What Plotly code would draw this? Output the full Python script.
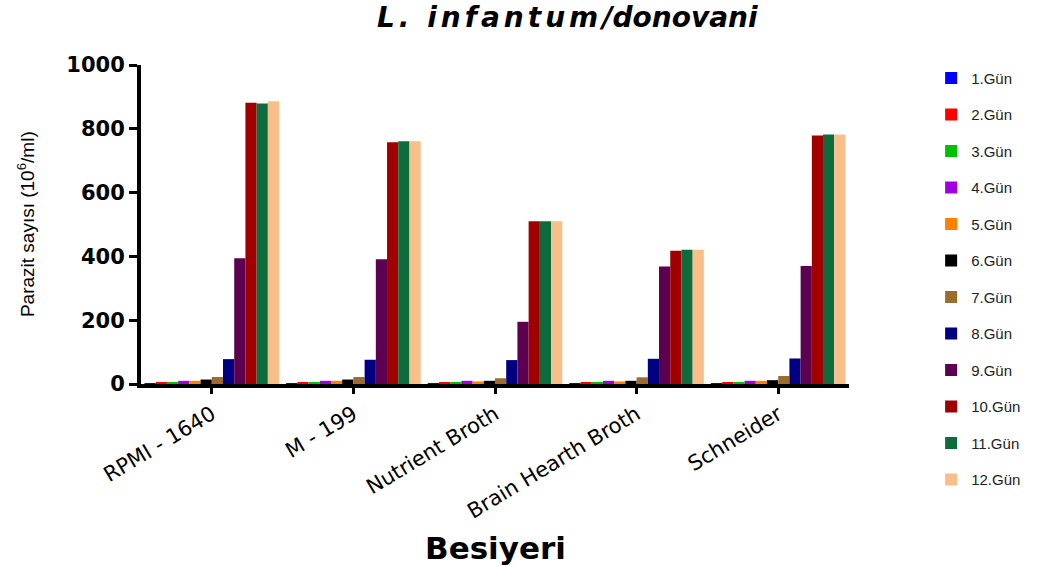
import plotly.graph_objects as go

media = ["RPMI - 1640", "M - 199", "Nutrient Broth", "Brain Hearth Broth", "Schneider"]
day_names = ["1.Gün", "2.Gün", "3.Gün", "4.Gün", "5.Gün", "6.Gün",
             "7.Gün", "8.Gün", "9.Gün", "10.Gün", "11.Gün", "12.Gün"]

day1 = [2, 2, 2, 2, 2]
day2 = [5, 5, 5, 5, 5]
day3 = [5, 5, 5, 5, 5]
day4 = [10, 10, 10, 10, 10]
day5 = [10, 10, 8, 8, 10]
day6 = [14, 14, 10, 10, 12]
day7 = [22, 22, 18, 21, 25]
day8 = [78, 76, 75, 79, 80]
day9 = [394, 391, 195, 368, 370]
day10 = [882, 758, 510, 418, 779]
day11 = [879, 761, 510, 421, 782]
day12 = [886, 761, 510, 421, 782]

colors = ["#0000FF", "#FF0000", "#00C000", "#A000E0", "#FF8000", "#000000",
          "#9C6B2E", "#000080", "#5E0050", "#A00000", "#0E6B3C", "#F9BF8B"]

series = [day1, day2, day3, day4, day5, day6, day7, day8, day9, day10, day11, day12]

fig = go.Figure()
for i, (name, vals) in enumerate(zip(day_names, series)):
    fig.add_trace(go.Bar(
        x=media, y=vals, name=name, legendgroup=name,
        marker=dict(color=colors[i], line=dict(width=0)),
    ))

fig.update_layout(
    width=1051, height=567,
    margin=dict(l=141, r=202, t=65, b=183, autoexpand=False),
    paper_bgcolor="white", plot_bgcolor="white",
    barmode="group", bargap=0.05, bargroupgap=0,
    showlegend=True,
    legend=dict(
        x=1.116, xanchor="left", y=1.01, yanchor="top",
        traceorder="grouped", tracegroupgap=14, maxheight=560,
        font=dict(family="Liberation Sans, Arial", size=15, color="#222"),
        bgcolor="rgba(0,0,0,0)",
    ),
    font=dict(family="DejaVu Sans", color="black"),
)

fig.update_xaxes(
    showline=True, linecolor="black", linewidth=4,
    ticks="outside", ticklen=6, tickwidth=3, tickcolor="black",
    tickangle=-31,
    tickfont=dict(family="DejaVu Sans", size=21, color="black"),
    showgrid=False, zeroline=False,
)
fig.update_yaxes(
    range=[0, 1000], dtick=200,
    showline=True, linecolor="black", linewidth=4,
    ticks="outside", ticklen=8, tickwidth=3, tickcolor="black",
    tickfont=dict(family="DejaVu Sans", size=21, color="black", weight="bold"),
    tickformat="d",
    showgrid=False, zeroline=False,
)

fig.add_annotation(
    text="Parazit sayısı (10<sup>6</sup>/ml)",
    xref="paper", yref="paper", x=-0.163, y=0.5,
    xanchor="center", yanchor="middle", textangle=-90, showarrow=False,
    font=dict(family="Liberation Sans, Arial", size=19, color="black"),
)
fig.add_annotation(
    text="<b>Besiyeri</b>",
    xref="paper", yref="paper", x=0.5, y=-0.513,
    xanchor="center", yanchor="middle", showarrow=False,
    font=dict(family="DejaVu Sans", size=31, color="black"),
)
fig.add_annotation(
    text="<span style='letter-spacing:4px'><b><i>L. infantum</i></b></span><b><i>/donovani</i></b>",
    xref="paper", yref="paper", x=0.603, y=1.15,
    xanchor="center", yanchor="middle", showarrow=False,
    font=dict(family="DejaVu Sans", size=28, color="black"),
)

fig.write_html("out.html")
